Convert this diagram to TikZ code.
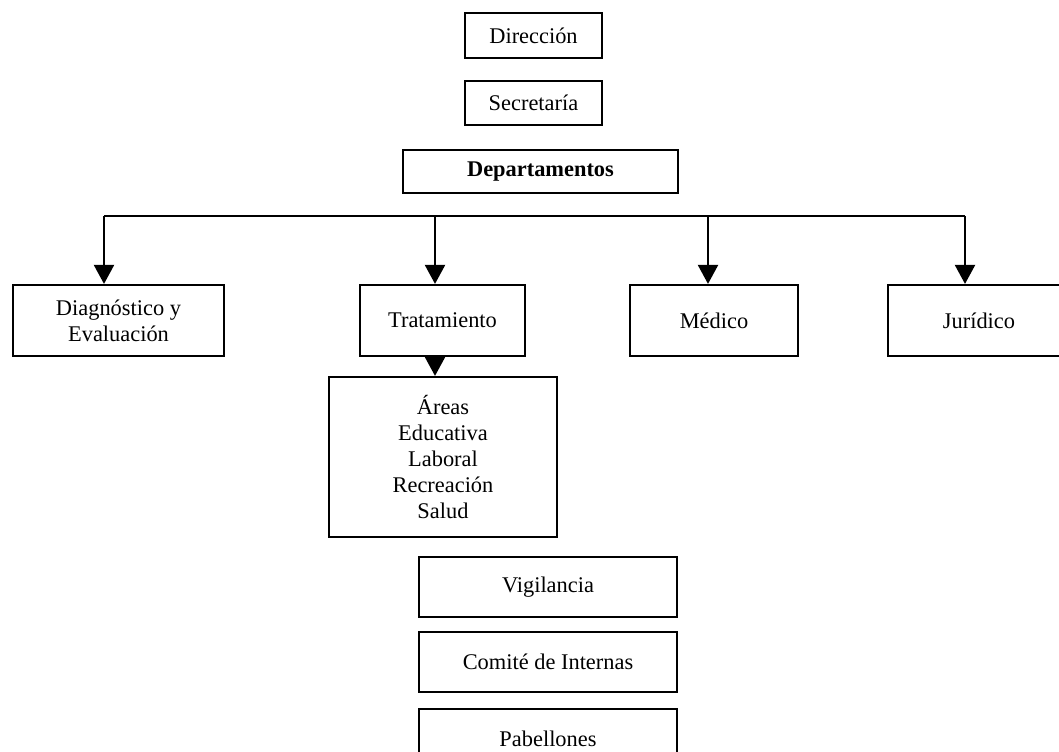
\documentclass[tikz,border=0pt]{standalone}
\usepackage{fontspec}
\setmainfont{Liberation Serif}
\usetikzlibrary{arrows.meta}
\tikzset{caja/.style={rectangle,draw,line width=1.1pt,inner sep=0pt,align=center,font=\fontsize{11.2}{13}\selectfont}}

\begin{document}
\begin{tikzpicture}[x=0.5pt,y=-0.5pt,>={Triangle[length=9.5pt,width=10pt]},line width=1.1pt]
    \useasboundingbox (0,0) rectangle (1059,751);

    \node[caja,minimum width=68.5pt,minimum height=22.5pt] (dir) at (533.5,35.5) {Dirección};
    \node[caja,minimum width=68.5pt,minimum height=22pt] (sec) at (533.5,103) {Secretaría};
    \node[caja,minimum width=137.5pt,minimum height=21.5pt,font=\fontsize{11.2}{13}\selectfont\bfseries] (dep) at (540.5,171.5) {Departamentos};

    \node[caja,minimum width=105.5pt,minimum height=35.5pt] (diag) at (118.5,320.5) {Diagnóstico y\\Evaluación};
    \node[caja,minimum width=82.5pt,minimum height=35.5pt] (trat) at (442.5,320.5) {Tratamiento};
    \node[caja,minimum width=84pt,minimum height=35.5pt] (med) at (714,320.5) {Médico};
    \node[caja,minimum width=91pt,minimum height=35.5pt] (jur) at (979,320.5) {Jurídico};

    \node[caja,minimum width=114pt,minimum height=80pt] (areas) at (443,457) {Áreas\\Educativa\\Laboral\\Recreación\\Salud};

    \node[caja,minimum width=129pt,minimum height=30pt] (vig) at (548,587) {Vigilancia};
    \node[caja,minimum width=129pt,minimum height=30pt] (com) at (548,662) {Comité de Internas};
    \node[caja,minimum width=129pt,minimum height=30pt] (pab) at (548,739) {Pabellones};

    \coordinate (t1) at (104,216);
    \coordinate (t2) at (435,216);
    \coordinate (t3) at (708,216);
    \coordinate (t4) at (965,216);

    \draw (t1) -- (t4);
    \draw [->] (t1) -- (t1 |- diag.north);
    \draw [->] (t2) -- (t2 |- trat.north);
    \draw [->] (t3) -- (t3 |- med.north);
    \draw [->] (t4) -- (t4 |- jur.north);
    \draw [->] (t2 |- trat.south) -- (t2 |- areas.north);
\end{tikzpicture}
\end{document}
